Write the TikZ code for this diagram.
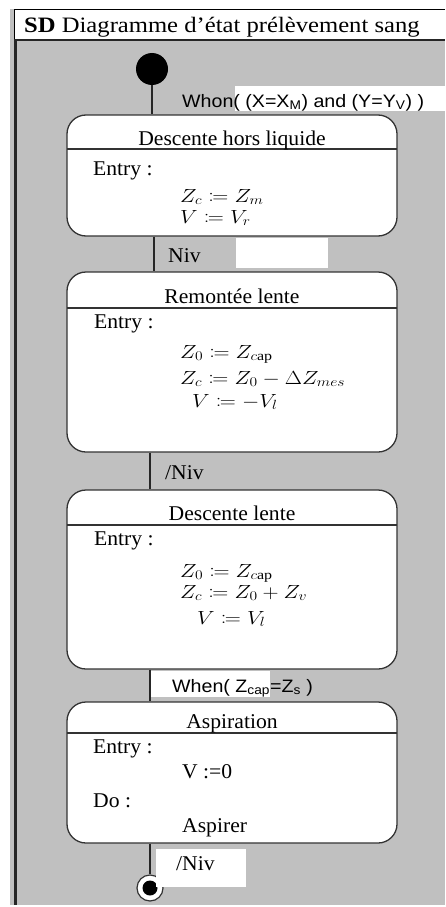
\RequirePackage{fix-cm}
\documentclass[tikz,border=0pt]{standalone}
\usepackage{graphicx}
\usepackage{fontspec}
\usepackage{mathtools}
\setmainfont{Liberation Serif}[FakeStretch=1.03]
\setsansfont{Liberation Sans}[FakeStretch=1.09]
\newfontfamily\hdrfont{Liberation Serif}[FakeStretch=1.12]
\definecolor{bg}{gray}{0.753}
\definecolor{ink}{gray}{0.2}
\newcommand\myfs{\fontsize{21pt}{24pt}\selectfont}
\newcommand\mysf{\sffamily\fontsize{18pt}{21pt}\selectfont}
\newcommand\mymath[1]{\scalebox{1.17}[1]{\fontsize{19pt}{22pt}\selectfont$#1$}}
\begin{document}
\begin{tikzpicture}[x=1pt,y=-1pt,
  statebox/.style={draw=ink, line width=1.3pt, fill=white, rounded corners=19pt,
    inner sep=0pt, minimum width=330pt},
  divline/.style={draw=ink, line width=1.2pt},
  conn/.style={draw=black!85, line width=1.8pt},
  txt/.style={anchor=base west, inner sep=0pt, font=\myfs},
  ttl/.style={anchor=base, inner sep=0pt, font=\myfs},
  lbl/.style={anchor=base west, inner sep=0pt, font=\mysf},
  wbox/.style={fill=white, draw=none}]
\useasboundingbox (0,0) rectangle (445,907);
% frame
\fill[bg] (10,9) rectangle (445,905);
\fill[white] (14,9) rectangle (445,40);
\draw[line width=0.8pt] (14,40) -- (14,9) -- (445,9);
\draw[line width=2pt, black!85] (14,40) -- (445,40);
\draw[line width=3pt, black!85] (15.5,40) -- (15.5,905);
\node[anchor=base west, inner sep=0pt, font=\hdrfont\fontsize{22pt}{25pt}\selectfont] (hdr) at (24,33)
  {\textbf{SD} Diagramme d’état prélèvement sang};

% states
\node[statebox, minimum height=121pt] (b1) at (232,175.5) {};
\node[statebox, minimum height=180pt] (b2) at (232,362) {};
\node[statebox, minimum height=179pt] (b3) at (232,579.5) {};
\node[statebox, minimum height=141pt] (b4) at (232,772.5) {};
\draw[divline] (67,149) -- (397,149);
\draw[divline] (67,308) -- (397,308);
\draw[divline] (67,525) -- (397,525);
\draw[divline] (67,733) -- (397,733);

% pseudo states
\node[circle, fill=black, minimum size=32pt, inner sep=0pt] (init) at (152,69) {};
\node[circle, draw=ink, line width=1.2pt, fill=white, minimum size=26pt, inner sep=0pt] (fin) at (150,888) {};
\node[circle, fill=black, minimum size=15pt, inner sep=0pt] (findot) at (fin) {};

% connectors
\coordinate (k1) at (154,0);
\coordinate (k2) at (150,0);
\draw[conn] (init) -- (init |- b1.north);
\draw[conn] (k1 |- b1.south) -- (k1 |- b2.north);
\draw[conn] (k2 |- b2.south) -- (k2 |- b3.north);
\draw[conn] (k2 |- b3.south) -- (k2 |- b4.north);
\draw[conn] (k2 |- b4.south) -- (fin);

% box 1
\node[ttl] (t1) at (232,145) {Descente hors liquide};
\node[txt] (e1) at (93,175) {Entry :};
\node[txt] (m11) at (180,202) {\mymath{Z_c \coloneqq Z_m}};
\node[txt] (m12) at (180,223) {\mymath{V \coloneqq V_r}};

% box 2
\node[ttl] (t2) at (232,303) {Remontée lente};
\node[txt] (e2) at (94,328) {Entry :};
\node[txt] (m21) at (180,358) {\mymath{Z_0 \coloneqq Z_{c\mathrm{ap}}}};
\node[txt] (m22) at (180,384) {\mymath{Z_c \coloneqq Z_0 - \Delta Z_{mes}}};
\node[txt] (m23) at (192,407) {\mymath{V \coloneqq -V_l}};

% box 3
\node[ttl] (t3) at (232,520) {Descente lente};
\node[txt] (e3) at (94,545) {Entry :};
\node[txt] (m31) at (180,577) {\mymath{Z_0 \coloneqq Z_{c\mathrm{ap}}}};
\node[txt] (m32) at (180,598) {\mymath{Z_c \coloneqq Z_0 + Z_v}};
\node[txt] (m33) at (197,624) {\mymath{V \coloneqq V_l}};

% box 4
\node[ttl] (t4) at (232,728) {Aspiration};
\node[txt] (e4) at (93,753) {Entry :};
\node[txt] (a41) at (182,778) {V :=0};
\node[txt] (d4) at (93,807) {Do :};
\node[txt] (a42) at (182,832) {Aspirer};

% transition labels
\fill[wbox] (235,86) rectangle (445,111);
\node[lbl] (g1) at (182,107) {Whon( (X=X\textsubscript{M}) and (Y=Y\textsubscript{V}) )};
\fill[wbox] (236,238) rectangle (328,268);
\node[txt] (g2) at (168,262) {Niv};
\node[txt] (g3) at (165,479) {/Niv};
\fill[wbox] (151,671) rectangle (270,697);
\node[lbl] (g4) at (172,692) {When( Z\textsubscript{cap}=Z\textsubscript{s} )};
\fill[wbox] (156,849) rectangle (246,887);
\node[txt] (g5) at (176,870) {/Niv};
\end{tikzpicture}
\end{document}
